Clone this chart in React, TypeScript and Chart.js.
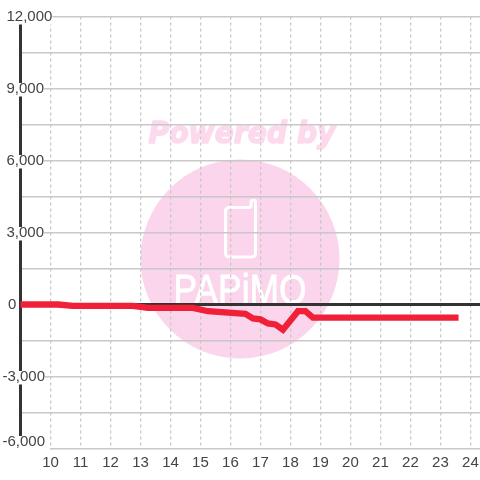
import React, { useEffect, useRef } from "react";
import { Chart, registerables } from "chart.js";

Chart.register(...registerables);

const hours = [9, 10.25, 10.75, 12.75, 13.25, 14.75, 15.25, 16.5, 16.75, 17, 17.25, 17.5, 17.75, 18.25, 18.5, 18.75, 23.5];
const values = [0, 0, -60, -60, -140, -140, -280, -390, -580, -620, -790, -830, -1050, -280, -280, -550, -550];
const hourTicks = [9, 10, 11, 12, 13, 14, 15, 16, 17, 18, 19, 20, 21, 22, 23, 24];
const logoCaption = "Powered by";
const logoName = "PAPiMO";

const FONT = "'Liberation Sans', Arial, sans-serif";

const watermark = {
  id: "watermark",
  beforeDraw(chart: any) {
    const c = chart.ctx;
    c.save();
    c.fillStyle = "#fbd5ec";
    c.beginPath();
    c.arc(240, 259, 99.5, 0, Math.PI * 2);
    c.fill();
    c.fillStyle = "#fdd9ee";
    c.strokeStyle = "#fdd9ee";
    c.lineWidth = 1.5;
    c.lineJoin = "round";
    c.font = `italic bold 30px 'DejaVu Sans'`;
    c.textAlign = "center";
    c.textBaseline = "middle";
    c.fillText(logoCaption, 242, 135, 187);
    c.strokeText(logoCaption, 242, 135, 187);
    c.strokeStyle = "#ffffff";
    c.lineWidth = 3;
    c.beginPath();
    c.moveTo(251, 207.5);
    c.lineTo(229, 207.5);
    c.arcTo(225.5, 207.5, 225.5, 211, 3.5);
    c.lineTo(225.5, 253);
    c.arcTo(225.5, 257, 229.5, 257, 4);
    c.lineTo(252, 257);
    c.arcTo(255.5, 257, 255.5, 253, 3.5);
    c.lineTo(255.5, 202.5);
    c.arc(253.25, 202.5, 2.25, 0, Math.PI, true);
    c.lineTo(251, 207.5);
    c.stroke();
    c.fillStyle = "#ffffff";
    c.font = `42px ${FONT}`;
    c.textBaseline = "alphabetic";
    c.lineWidth = 0.8;
    c.fillText(logoName, 240, 304, 133);
    c.strokeText(logoName, 240, 304, 133);
    c.restore();
  },
};

const labelTweaks = {
  id: "labelTweaks",
  beforeDraw(chart: any) {
    const y = chart.scales.y;
    for (const item of y.getLabelItems()) {
      const t = String(item.label);
      const o = item.options;
      const tickY = o.translation[1];
      const last = t === "-6,000";
      let x = 6.5;
      if (t === "0") x = 8;
      if (t.startsWith("-")) x = 2.5;
      o.textAlign = "left";
      o.translation = [x, last ? tickY - 7 : tickY];
      if (o.backdrop) {
        o.backdrop = {
          ...o.backdrop,
          left: 0,
          top: -5.5,
          height: last ? 16 : 13.5,
          width: last ? 47.5 : o.backdrop.width,
        };
      }
    }
  },
};

export default function App() {
  const ref = useRef<HTMLCanvasElement>(null);
  useEffect(() => {
    document.body.style.margin = "0";
    const chart = new Chart(ref.current!, {
      type: "line",
      data: {
        datasets: [
          {
            data: hours.map((h, i) => ({ x: h, y: values[i] })),
            borderColor: "#ef2038",
            borderWidth: 6.3,
            borderCapStyle: "square",
            borderJoinStyle: "miter",
            pointRadius: 0,
            tension: 0,
          },
        ],
      },
      plugins: [watermark, labelTweaks],
      options: {
        animation: false,
        responsive: false,
        devicePixelRatio: 1,
        layout: { padding: { left: 20.5, top: 16.5, right: 0, bottom: 0 } },
        plugins: { legend: { display: false }, title: { display: false }, tooltip: { enabled: false } },
        scales: {
          x: {
            type: "linear",
            min: 9,
            max: 24.32,
            afterBuildTicks(s: any) {
              s.ticks = hourTicks.map((value) => ({ value }));
            },
            afterFit(s: any) {
              s.height = 31.5;
              s.paddingLeft = 0;
              s.paddingRight = 0;
            },
            grid: { color: "#c8c8c8", lineWidth: 1.3, drawTicks: false },
            border: { display: false, dash: [3, 3] },
            ticks: {
              autoSkip: false,
              maxRotation: 0,
              padding: 5,
              color: "#444444",
              font: { family: FONT, size: 15 },
              callback: (v: any) => (v === 9 ? "" : String(v)),
            },
          },
          y: {
            min: -6000,
            max: 12000,
            afterBuildTicks(s: any) {
              const out = [];
              for (let v = 12000; v >= -6000; v -= 1500) out.push({ value: v });
              s.ticks = out;
            },
            afterFit(s: any) {
              s.width = 0;
              s.paddingTop = 0;
              s.paddingBottom = 0;
            },
            grid: {
              drawTicks: false,
              color: (c: any) => (c.tick && c.tick.value === 0 ? "#333333" : "#c8c8c8"),
              lineWidth: (c: any) => (c.tick && c.tick.value === 0 ? 3 : 1.5),
            },
            border: { display: true, color: "#333333", width: 3 },
            ticks: {
              mirror: true,
              padding: 0,
              autoSkip: false,
              color: "#444444",
              font: { family: FONT, size: 15 },
              showLabelBackdrop: true,
              backdropColor: "#ffffff",
              backdropPadding: 0,
              callback: (v: any) => (v % 3000 === 0 ? Number(v).toLocaleString("en-US") : ""),
            },
          },
        },
      },
    } as any);
    return () => chart.destroy();
  }, []);
  return <canvas ref={ref} width={480} height={480} style={{ display: "block" }} />;
}
